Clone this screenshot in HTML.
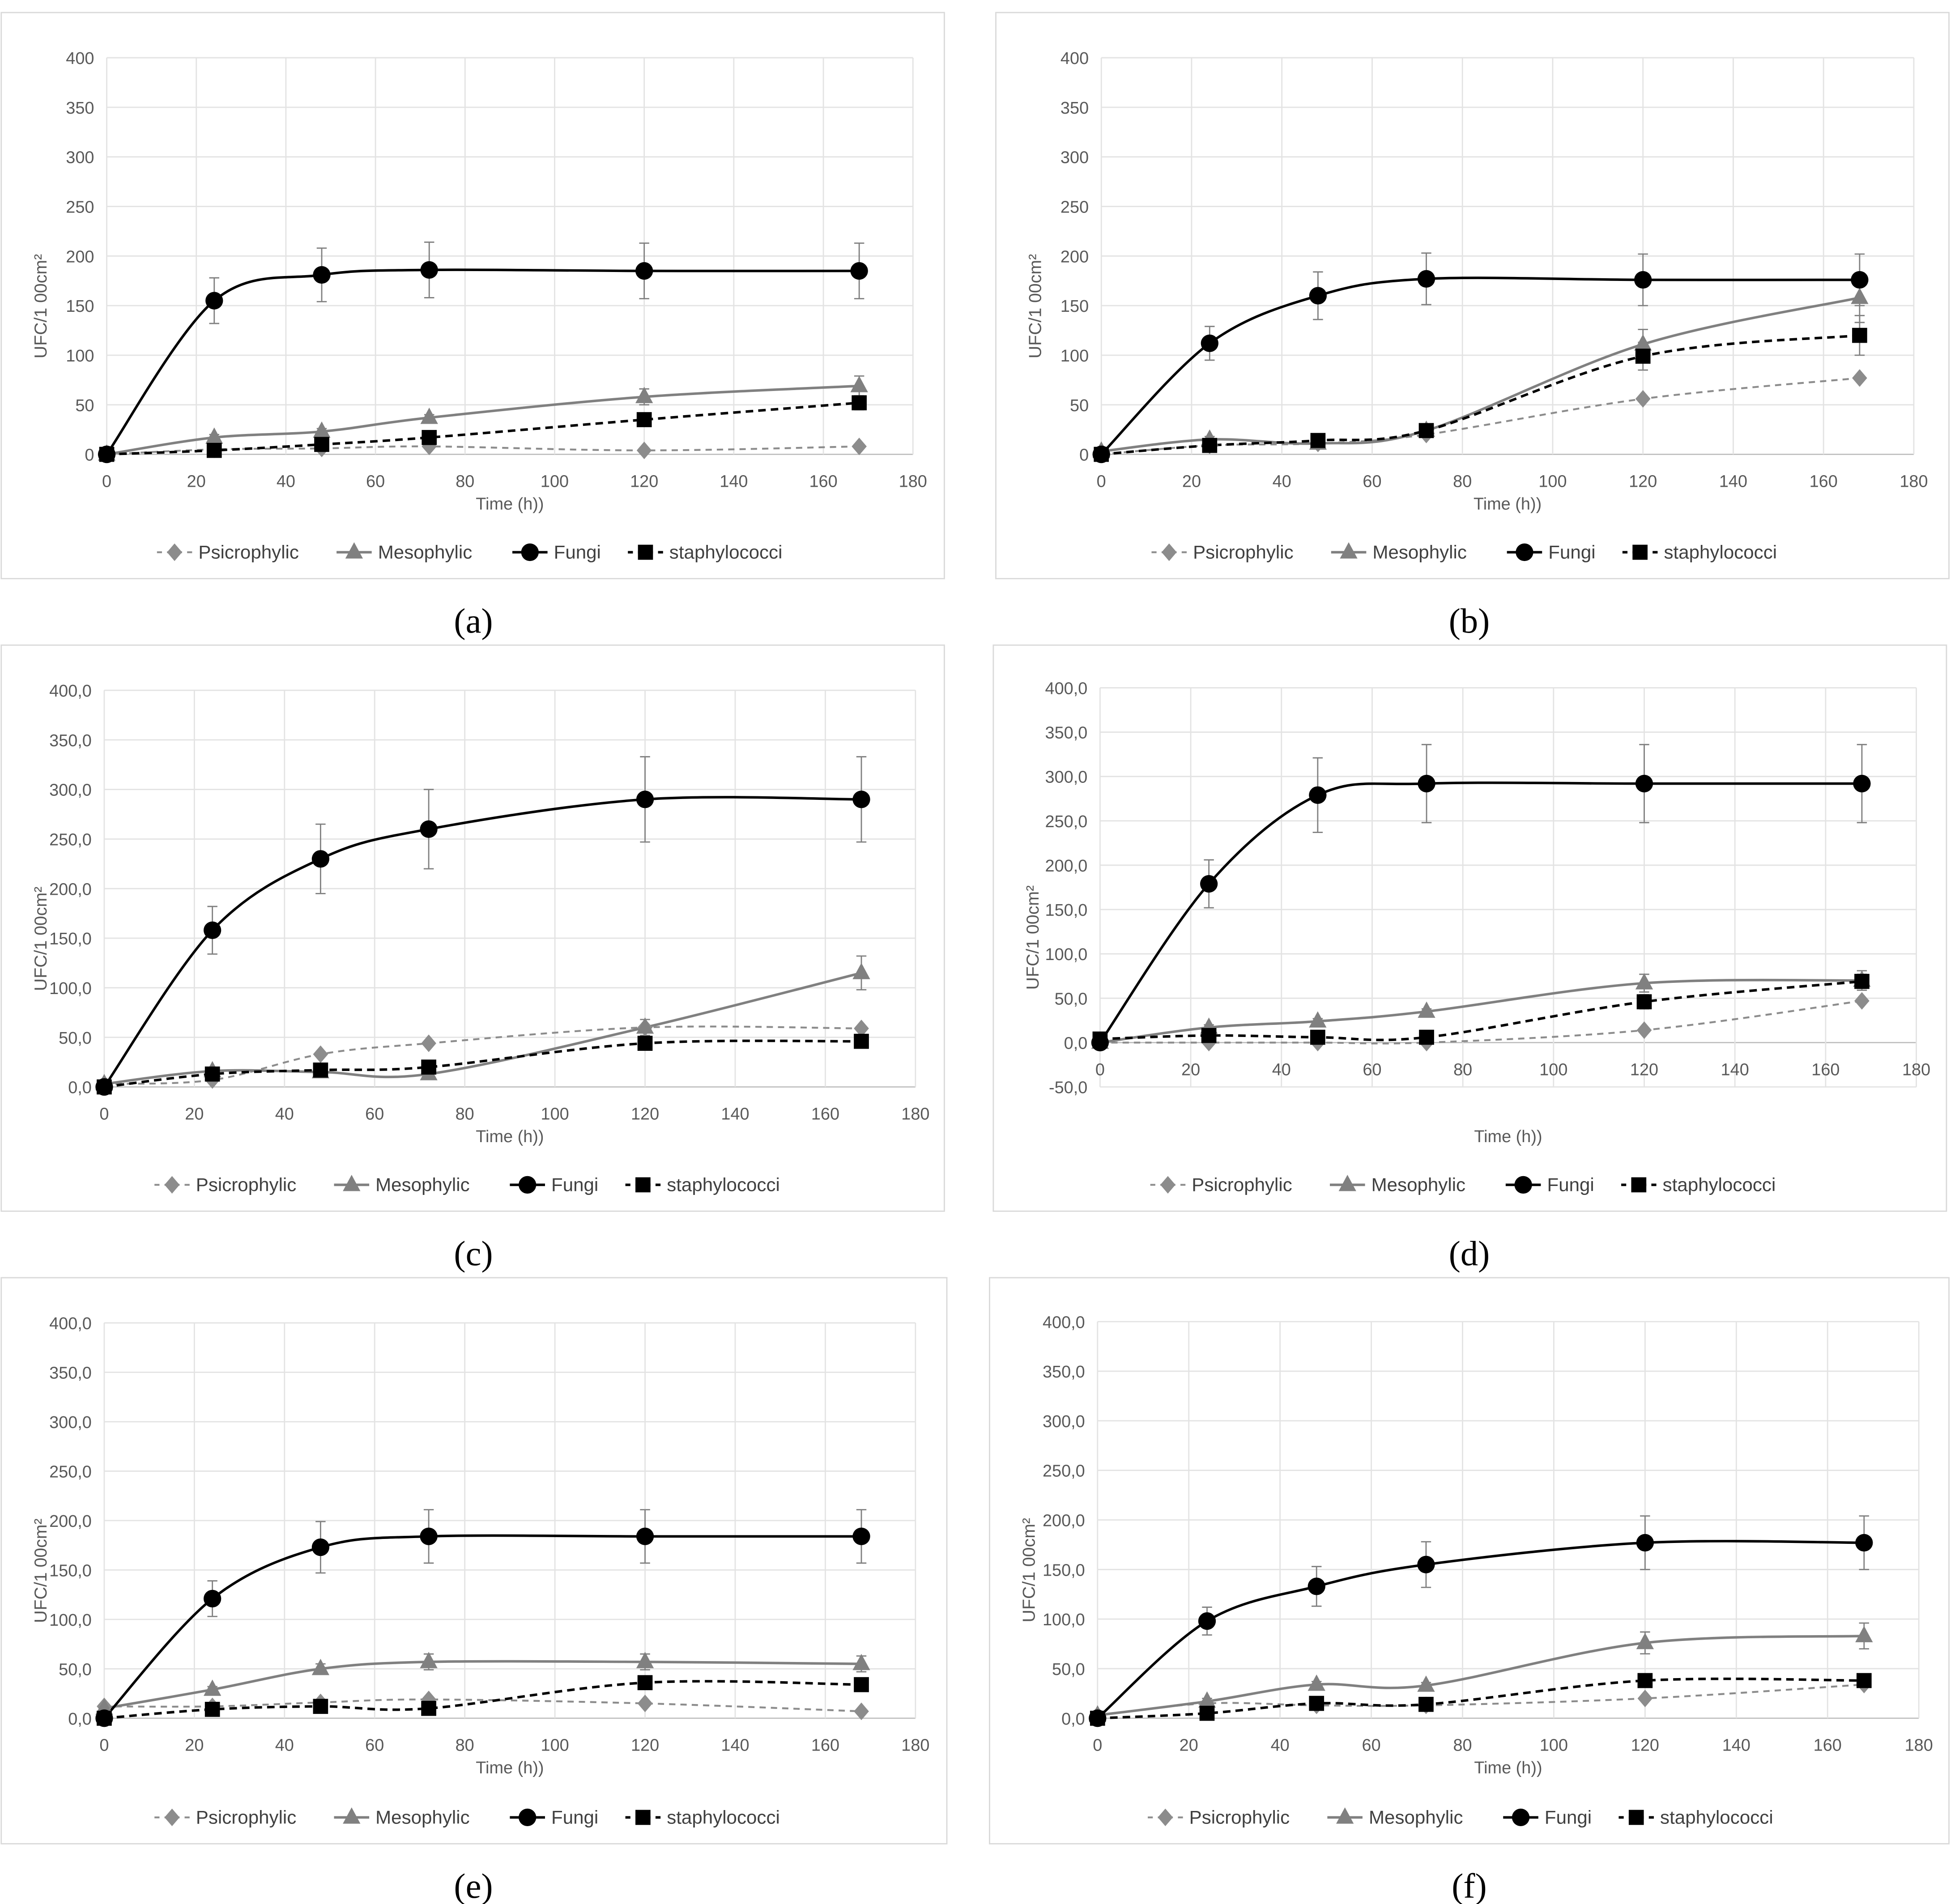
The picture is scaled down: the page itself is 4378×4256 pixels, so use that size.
<!DOCTYPE html>
<html><head><meta charset="utf-8"><style>
html,body{margin:0;padding:0;background:#fff;}
svg{display:block;font-family:"Liberation Sans",sans-serif;}
</style></head><body>
<svg id="fig" width="4378" height="4256" viewBox="0 0 1560 1517" preserveAspectRatio="none" xmlns="http://www.w3.org/2000/svg"></svg>
<script>
const xs=[0,24,48,72,120,168];
const xTicks=[0,20,40,60,80,100,120,140,160,180];
const yTicksA=[0,50,100,150,200,250,300,350,400];
const yTicksD=[-50,0,50,100,150,200,250,300,350,400];
const labels=["(a)","(b)","(c)","(d)","(e)","(f)"];
const psiA=[0,5,6,8,4,8],mesoA=[0,17,23,37,58,69],fungiA=[0,155,181,186,185,185],staphA=[0,4,10,17,35,52];
const fErrA=[0,23,27,28,28,28],mErrA=[0,3,3,3,8,10],sErrA=[0,2,3,3,4,7];
const psiB=[0,9,11,20,56,77],mesoB=[3,15,11,24,111,158],fungiB=[0,112,160,177,176,176],staphB=[0,9,14,24,99,120];
const fErrB=[0,17,24,26,26,26],mErrB=[0,3,3,3,15,25],sErrB=[0,2,3,3,14,20];
const psiC=[3,7,33,44,60,59],mesoC=[3,16,15,13,60,115],fungiC=[0,158,230,260,290,290],staphC=[0,13,17,20,44,46];
const fErrC=[0,24,35,40,43,43],mErrC=[0,3,3,3,8,17],sErrC=[0,3,3,3,4,5];
const psiD=[0,0,0,0,14,47],mesoD=[0,17,24,35,67,70],fungiD=[0,179,279,292,292,292],staphD=[4,8,6,6,46,69];
const fErrD=[0,27,42,44,44,44],mErrD=[0,3,3,3,10,11],sErrD=[0,2,2,2,8,8];
const psiE=[12,12,16,19,15,7],mesoE=[10,29,50,57,57,55],fungiE=[0,121,173,184,184,184],staphE=[0,9,12,10,36,34];
const fErrE=[0,18,26,27,27,27],mErrE=[0,3,5,8,8,8],sErrE=[0,2,2,2,3,3];
const psiF=[3,15,13,13,20,34],mesoF=[3,17,34,33,76,83],fungiF=[0,98,133,155,177,177],staphF=[0,5,15,14,38,38];
const fErrF=[0,14,20,23,27,27],mErrF=[0,3,3,3,11,13],sErrF=[0,2,2,2,3,3];

const panels=[
 {box:[1,10,751,451],px:[85,727],py:[46,362],yt:yTicksA,ymin:0,dec:false,ps:psiA,ms:mesoA,fs:fungiA,ss:staphA,fe:fErrA,me:mErrA,se:sErrA,lx:377,ly:494},
 {box:[793,10,759,451],px:[877,1524],py:[46,362],yt:yTicksA,ymin:0,dec:false,ps:psiB,ms:mesoB,fs:fungiB,ss:staphB,fe:fErrB,me:mErrB,se:sErrB,lx:1170,ly:494},
 {box:[1,514,751,451],px:[83,729],py:[550,866],yt:yTicksA,ymin:0,dec:true,ps:psiC,ms:mesoC,fs:fungiC,ss:staphC,fe:fErrC,me:mErrC,se:sErrC,lx:377,ly:998},
 {box:[791,514,759,451],px:[876,1526],py:[548,866],yt:yTicksD,ymin:-50,dec:true,ps:psiD,ms:mesoD,fs:fungiD,ss:staphD,fe:fErrD,me:mErrD,se:sErrD,lx:1170,ly:998},
 {box:[1,1018,753,451],px:[83,729],py:[1054,1369],yt:yTicksA,ymin:0,dec:true,ps:psiE,ms:mesoE,fs:fungiE,ss:staphE,fe:fErrE,me:mErrE,se:sErrE,lx:377,ly:1502},
 {box:[788,1018,764,451],px:[874,1528],py:[1053,1369],yt:yTicksA,ymin:0,dec:true,ps:psiF,ms:mesoF,fs:fungiF,ss:staphF,fe:fErrF,me:mErrF,se:sErrF,lx:1170,ly:1502}
];
const NS="http://www.w3.org/2000/svg";
const svg=document.getElementById('fig');
function mk(tag,attrs,parent){const e=document.createElementNS(NS,tag);for(const k in attrs)e.setAttribute(k,attrs[k]);(parent||svg).appendChild(e);return e;}
function smooth(pts){let d="M"+pts[0][0]+","+pts[0][1];for(let i=0;i<pts.length-1;i++){const p0=pts[Math.max(i-1,0)],p1=pts[i],p2=pts[i+1],p3=pts[Math.min(i+2,pts.length-1)];const t=6;d+=" C"+(p1[0]+(p2[0]-p0[0])/t)+","+(p1[1]+(p2[1]-p0[1])/t)+" "+(p2[0]-(p3[0]-p1[0])/t)+","+(p2[1]-(p3[1]-p1[1])/t)+" "+p2[0]+","+p2[1];}return d;}
function marker(g,type,x,y){let e;
 if(type==='d'){e=mk('path',{d:`M${x},${y-7}L${x+6},${y}L${x},${y+7}L${x-6},${y}Z`,fill:'#8c8c8c'},g);}
 else if(type==='t'){e=mk('path',{d:`M${x},${y-8}L${x+7},${y+5}L${x-7},${y+5}Z`,fill:'#808080'},g);}
 else if(type==='c'){e=mk('circle',{cx:x,cy:y,r:7,fill:'#000'},g);}
 else {e=mk('rect',{x:x-6,y:y-6,width:12,height:12,fill:'#000'},g);}
 return e;}
panels.forEach((P,pi)=>{
 const g=mk('g',{});
 
 
 const b=mk('rect',{x:P.box[0],y:P.box[1],width:P.box[2],height:P.box[3],fill:'#fff',stroke:'#d9d9d9','stroke-width':1},g);
 
 
 const ymax=400;
 const sx=v=>P.px[0]+(v-0)/180*(P.px[1]-P.px[0]);
 const sy=v=>P.py[1]-(v-P.ymin)/(ymax-P.ymin)*(P.py[1]-P.py[0]);
 P.yt.forEach(t=>{
  const l=mk('line',{x1:P.px[0],x2:P.px[1],y1:sy(t),y2:sy(t),stroke:t===0?'#bfbfbf':'#e3e3e3','stroke-width':1},g);
  
  
  const tx=mk('text',{x:P.px[0]-10,y:sy(t)+5,'text-anchor':'end','font-size':13.5,fill:'#595959'},g);
  tx.textContent=P.dec?t.toFixed(1).replace('.',','):String(t);
  
  
 });
 xTicks.forEach(t=>{
  const l=mk('line',{x1:sx(t),x2:sx(t),y1:P.py[0],y2:P.py[1],stroke:'#e3e3e3','stroke-width':1},g);
  
  
  const tx=mk('text',{x:sx(t),y:sy(0)+26,'text-anchor':'middle','font-size':13.5,fill:'#595959'},g);
  tx.textContent=String(t);
  
  
 });
 const xt=mk('text',{x:(P.px[0]+P.px[1])/2,y:P.py[1]+44,'text-anchor':'middle','font-size':13.5,fill:'#595959'},g);
 xt.textContent='Time (h))';
 
 
 const ycx=P.box[0]+36,ycy=(P.py[0]+P.py[1])/2+40;
 const yt=mk('text',{x:ycx,y:ycy,'text-anchor':'middle','font-size':14,fill:'#595959',transform:`rotate(-90 ${ycx} ${ycy})`},g);
 yt.textContent='UFC/1 00cm²';
 
 
 const series=[
  {v:P.ps,e:null,st:'#8c8c8c',w:1.5,da:'5,4',m:'d',n:'psicrophylic'},
  {v:P.ms,e:P.me,st:'#808080',w:2,da:'',m:'t',n:'mesophylic'},
  {v:P.fs,e:P.fe,st:'#000',w:2,da:'',m:'c',n:'fungi'},
  {v:P.ss,e:P.se,st:'#000',w:2,da:'6,4',m:'s',n:'staphylococci'}];
 series.forEach(S=>{
  if(S.e){S.v.forEach((v,i)=>{if(!S.e[i])return;const x=sx(xs[i]);
   const eb=mk('path',{d:`M${x},${sy(v-S.e[i])}V${sy(v+S.e[i])}M${x-4},${sy(v-S.e[i])}h8M${x-4},${sy(v+S.e[i])}h8`,stroke:'#7f7f7f','stroke-width':1,fill:'none'},g);
   
   });}
  const pts=S.v.map((v,i)=>[sx(xs[i]),sy(v)]);
  const ln=mk('path',{d:smooth(pts),fill:'none',stroke:S.st,'stroke-width':S.w,'stroke-dasharray':S.da},g);
  
  
 });
 series.forEach(S=>{S.v.forEach((v,i)=>{const m=marker(g,S.m,sx(xs[i]),sy(v));
  
  });});
 const L0=P.px[0]+40,ly=P.box[1]+430;
 const offs=[0,143,283,375],tw=['Psicrophylic','Mesophylic','Fungi','staphylococci'];
 series.forEach((S,k)=>{const x=L0+offs[k];
  const lg=mk('g',{},g);
  
  
  mk('line',{x1:x,x2:x+28,y1:ly,y2:ly,stroke:S.st,'stroke-width':S.w,'stroke-dasharray':S.da?'4,4':''},lg);
  marker(lg,S.m,x+14,ly);
  const t=mk('text',{x:x+33,y:ly+5,'font-size':15,fill:'#404040'},lg);
  t.textContent=tw[k];
 });
 const pl=mk('text',{x:P.lx,y:P.ly+10,'text-anchor':'middle','font-size':28,'font-family':'Liberation Serif, serif',fill:'#000'});
 pl.textContent=labels[pi];
 
 
});
</script>
</body></html>
